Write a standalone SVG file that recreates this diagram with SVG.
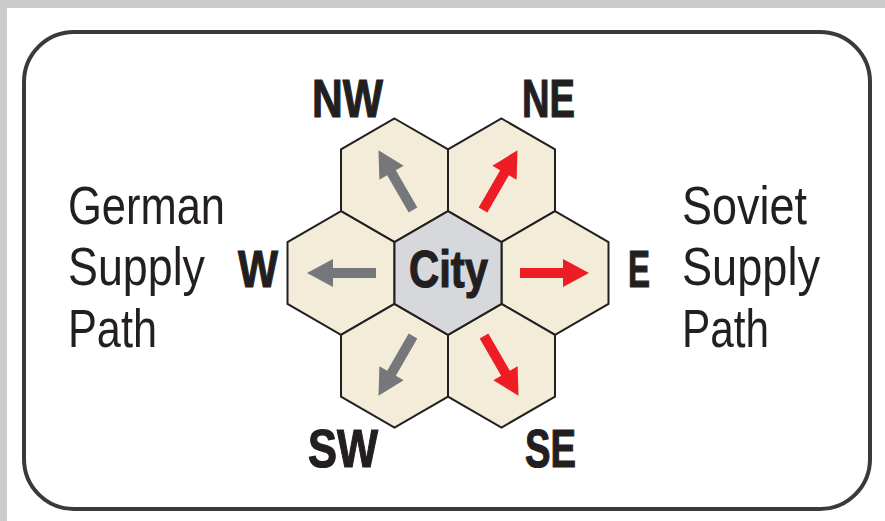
<svg xmlns="http://www.w3.org/2000/svg" xmlns:xlink="http://www.w3.org/1999/xlink" width="885" height="521" viewBox="0 0 885 521">
<style>
.hex{fill:#f2ecd9;stroke:#231f20;stroke-width:2;stroke-linejoin:miter}
.city{fill:#d6d8dc}
.lbl{font-family:"Liberation Sans",Arial,sans-serif;font-weight:bold;font-size:52px;fill:#231f20;stroke:#231f20;stroke-width:1.2}
.big{font-size:54px}
.side{font-family:"Liberation Sans",Arial,sans-serif;font-size:54.5px;fill:#231f20}
.g{fill:#76777a}
.r{fill:#ee1c25}
</style>
<defs>
<path id="hx" d="M0,-61.8 L53.5,-30.9 L53.5,30.9 L0,61.8 L-53.5,30.9 L-53.5,-30.9 Z"/>
<path id="ar" d="M0,-5 H43 V-14 L69,0 L43,14 V5 H0 Z"/>
</defs>
<rect x="0" y="0" width="885" height="521" fill="#cbcbcb"/>
<rect x="7" y="8" width="878" height="513" fill="#ffffff"/>
<rect x="24" y="32" width="846" height="477" rx="50" ry="50" fill="#ffffff" stroke="#3a3a3a" stroke-width="4"/>
<g id="hex-nw"><use xlink:href="#hx" class="hex" transform="translate(394.5,180.3)"/><text class="lbl big" x="312" y="117" textLength="71" lengthAdjust="spacingAndGlyphs">NW</text></g>
<g id="hex-ne"><use xlink:href="#hx" class="hex" transform="translate(501.5,180.3)"/><text class="lbl big" x="522" y="117" textLength="53" lengthAdjust="spacingAndGlyphs">NE</text></g>
<g id="hex-w"><use xlink:href="#hx" class="hex" transform="translate(341,273)"/><text class="lbl" x="238" y="287" textLength="40" lengthAdjust="spacingAndGlyphs">W</text></g>
<g id="hex-e"><use xlink:href="#hx" class="hex" transform="translate(555,273)"/><text class="lbl" x="628" y="287" textLength="22" lengthAdjust="spacingAndGlyphs">E</text></g>
<g id="hex-sw"><use xlink:href="#hx" class="hex" transform="translate(394.5,365.7)"/><text class="lbl big" x="308" y="467" textLength="70" lengthAdjust="spacingAndGlyphs">SW</text></g>
<g id="hex-se"><use xlink:href="#hx" class="hex" transform="translate(501.5,365.7)"/><text class="lbl big" x="525" y="467" textLength="51" lengthAdjust="spacingAndGlyphs">SE</text></g>
<g id="hex-city"><use xlink:href="#hx" class="hex city" transform="translate(448,273)"/><text class="lbl" x="409" y="287" textLength="79" lengthAdjust="spacingAndGlyphs">City</text></g>
<g id="connectors">
<use xlink:href="#ar" class="g" transform="translate(413,210) rotate(-120)"/>
<use xlink:href="#ar" class="r" transform="translate(483,210) rotate(-60)"/>
<use xlink:href="#ar" class="g" transform="translate(376,273) rotate(180)"/>
<use xlink:href="#ar" class="r" transform="translate(520,273)"/>
<use xlink:href="#ar" class="g" transform="translate(413,336) rotate(120)"/>
<use xlink:href="#ar" class="r" transform="translate(484,336) rotate(60)"/>
</g>
<g id="german-label">
<text class="side" x="68" y="224" textLength="157" lengthAdjust="spacingAndGlyphs">German</text>
<text class="side" x="68" y="285" textLength="137" lengthAdjust="spacingAndGlyphs">Supply</text>
<text class="side" x="68" y="347" textLength="89" lengthAdjust="spacingAndGlyphs">Path</text>
</g>
<g id="soviet-label">
<text class="side" x="682" y="224" textLength="125" lengthAdjust="spacingAndGlyphs">Soviet</text>
<text class="side" x="682" y="285" textLength="138" lengthAdjust="spacingAndGlyphs">Supply</text>
<text class="side" x="682" y="347" textLength="87" lengthAdjust="spacingAndGlyphs">Path</text>
</g>
</svg>
